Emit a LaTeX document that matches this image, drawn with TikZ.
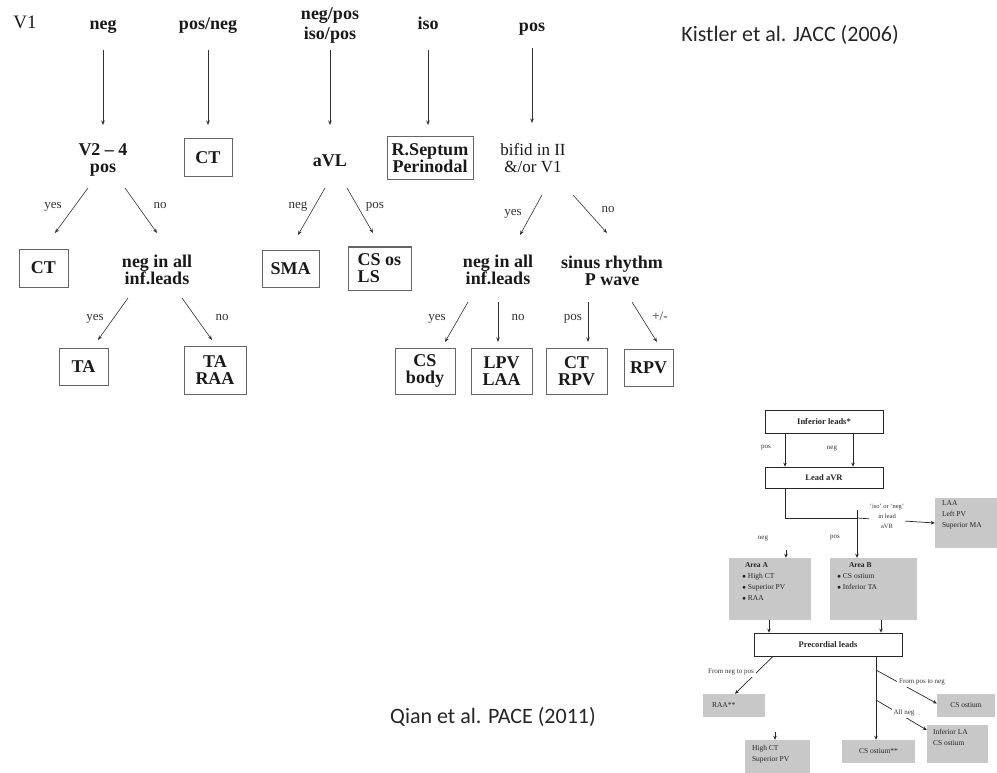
\documentclass[tikz,border=0pt]{standalone}
\usepackage{fontspec}
\setmainfont{Liberation Serif}
\newfontfamily\calib{Carlito}
\usetikzlibrary{arrows.meta}
\begin{document}
\begin{tikzpicture}[x=1pt,y=-1pt,
  bt/.style={font=\bfseries\fontsize{18}{17}\selectfont, align=center, inner sep=0pt, text=black!90},
  one/.style={text height=12.5pt, text depth=4pt},
  rt/.style={font=\fontsize{17}{17}\selectfont, align=center, inner sep=0pt, text=black!90},
  lab/.style={font=\fontsize{13}{13}\selectfont, inner sep=0pt, text=black!80, text height=9pt, text depth=3pt},
  bx/.style={draw=black!60, line width=1pt, font=\bfseries\fontsize{18}{17}\selectfont, align=center, inner sep=0pt, text=black!90},
  arr/.style={draw=black!80, line width=0.6pt, -{Stealth[length=4.5pt,width=3.5pt]}},
  cite/.style={font=\calib\fontsize{22}{22}\selectfont, inner sep=0pt, text=black!85},
  sb/.style={draw=black!85, line width=0.7pt, font=\bfseries\fontsize{8.5}{9}\selectfont, inner sep=0pt, text=black!85},
  gb/.style={fill={rgb,255:red,200;green,200;blue,200}, inner sep=0pt},
  gt/.style={font=\fontsize{7.5}{11}\selectfont, text=black!85, inner sep=0pt, align=left},
  sl/.style={font=\fontsize{7}{7.5}\selectfont, inner sep=2pt, text=black!80, fill=white, align=center},
  sarr/.style={draw=black!85, line width=0.7pt, -{Stealth[length=4pt,width=3.5pt]}},
  sln/.style={draw=black!85, line width=0.7pt}
]
\useasboundingbox[fill=white] (0,0) rectangle (997,773);

% ---------- Kistler tree ----------
\node[rt, one, font=\fontsize{19}{19}\selectfont] (v1) at (25,24) {V1};
\node[bt, one] (n1) at (103,25) {neg};
\node[bt, one] (n2) at (208,25) {pos/neg};
\node[bt, font=\bfseries\fontsize{18}{20}\selectfont] (n3) at (330,25) {neg/pos\\iso/pos};
\node[bt, one] (n4) at (428,25) {iso};
\node[bt, one] (n5) at (532,27) {pos};
\node[cite] (kis) at (790,35) {Kistler et al. JACC (2006)};

\node[bt] (v24) at (103,160) {V2 -- 4\\pos};
\node[bx, minimum width=48, minimum height=38] (ct1) at (208,158) {CT};
\node[bt, one] (avl) at (330,162) {aVL};
\node[bx, minimum width=86, minimum height=43] (rs) at (430,158.5) {R.Septum\\Perinodal};
\node[rt] (bif) at (533,158) {bifid in II\\\&/or V1};

\draw[arr] ([shift={(0,25)}]n1.center) -- ([shift={(0,-35)}]v24.center);
\draw[arr] ([shift={(0,25)}]n2.center) -- ([shift={(0,-33)}]ct1.center);
\draw[arr] ([shift={(0,25)}]n3.center) -- ([shift={(0,-37)}]avl.center);
\draw[arr] ([shift={(0,25)}]n4.center) -- ([shift={(-2,-33.5)}]rs.center);
\draw[arr] ([shift={(0,21)}]n5.center) -- ([shift={(-1,-35)}]bif.center);

\node[bx, minimum width=49, minimum height=38] (ct2) at (43.5,268) {CT};
\node[bt] (nia1) at (157,270) {neg in all\\inf.leads};
\node[bx, minimum width=57, minimum height=37] (sma) at (290.5,268.5) {SMA};
\node[bx, minimum width=63, minimum height=43, align=left] (csos) at (379.5,268.5) {CS os\\LS};
\node[bt] (nia2) at (498,270) {neg in all\\inf.leads};
\node[bt] (sin) at (612,271) {sinus rhythm\\P wave};

\draw[arr] ([shift={(-15,28)}]v24.center) -- ([shift={(11.5,-35)}]ct2.center);
\draw[arr] ([shift={(22,28)}]v24.center) -- ([shift={(0,-37)}]nia1.center);
\draw[arr] ([shift={(-5,26)}]avl.center) -- ([shift={(7.5,-33.5)}]sma.center);
\draw[arr] ([shift={(17,26)}]avl.center) -- ([shift={(-6.5,-35.5)}]csos.center);
\draw[arr] ([shift={(9,37)}]bif.center) -- ([shift={(22,-35)}]nia2.center);
\draw[arr] ([shift={(40,37)}]bif.center) -- ([shift={(-5,-38)}]sin.center);

\node[lab] at (53,205) {yes};
\node[lab] at (160,205) {no};
\node[lab] at (298,205) {neg};
\node[lab] at (375,205) {pos};
\node[lab] at (513,212) {yes};
\node[lab] at (608,210) {no};

\node[bx, minimum width=49, minimum height=37] (ta) at (83.5,366.5) {TA};
\node[bx, minimum width=62, minimum height=48] (tar) at (215,370) {TA\\RAA};
\node[bx, minimum width=60, minimum height=46] (csb) at (425,371) {CS\\body};
\node[bx, minimum width=61, minimum height=46] (lpv) at (501.5,371) {LPV\\LAA};
\node[bx, minimum width=61, minimum height=46] (ctr) at (576.5,371) {CT\\RPV};
\node[bx, minimum width=49, minimum height=37] (rpv) at (648.5,367.5) {RPV};

\draw[arr] ([shift={(-29,28)}]nia1.center) -- ([shift={(14.5,-26.5)}]ta.center);
\draw[arr] ([shift={(25,28)}]nia1.center) -- ([shift={(-3,-30)}]tar.center);
\draw[arr] ([shift={(-30,32)}]nia2.center) -- ([shift={(20,-29)}]csb.center);
\draw[arr] ([shift={(0,32)}]nia2.center) -- ([shift={(-3.5,-29)}]lpv.center);
\draw[arr] ([shift={(-24,31)}]sin.center) -- ([shift={(11.5,-29)}]ctr.center);
\draw[arr] ([shift={(20,31)}]sin.center) -- ([shift={(8.5,-25.5)}]rpv.center);

\node[lab] at (95,317) {yes};
\node[lab] at (222,317) {no};
\node[lab] at (437,317) {yes};
\node[lab] at (518,317) {no};
\node[lab] at (573,317) {pos};
\node[lab] at (660,317) {+/-};

% ---------- Qian flowchart ----------
\node[cite] (qian) at (493,717) {Qian et al. PACE (2011)};

\node[sb, minimum width=118, minimum height=23] (inf) at (824,421.5) {Inferior leads*};
\node[sb, minimum width=118, minimum height=21] (lavr) at (824,477.5) {Lead aVR};
\draw[sarr] ([xshift=-39pt]inf.south) -- ([xshift=-39pt]lavr.north);
\draw[sarr] ([xshift=29pt]inf.south) -- ([xshift=29pt]lavr.north);
\node[sl, fill=none] at (766,448) {pos};
\node[sl, fill=none] at (832,448) {neg};

\node[gb, minimum width=62, minimum height=50] (laa) at (966,523) {};
\node[gt, anchor=north west] at ([shift={(7,3)}]laa.north west) {LAA\\Left PV\\Superior MA};
\coordinate (j) at (857,518);
\coordinate (jt) at (857,510);
\draw[sln] ([xshift=-39pt]lavr.south) |- (j);
\draw[sln] (jt) -- (j);
\draw[sarr] (j) -- (laa.west);
\node[sl, font=\fontsize{6.5}{10}\selectfont, inner sep=1pt] (isol) at (887,516) {`iso' or `neg'\\in lead\\aVR};

\node[gb, minimum width=82, minimum height=62] (areaA) at (770,589) {};
\node[gt, anchor=north west] at ([shift={(13,5)}]areaA.north west) {\hspace*{3pt}\textbf{Area A}\\$\bullet$ High CT\\$\bullet$ Superior PV\\$\bullet$ RAA};
\node[gb, minimum width=87, minimum height=62] (areaB) at (873.5,589) {};
\node[gt, anchor=north west] at ([shift={(7,5)}]areaB.north west) {\hspace*{12pt}\textbf{Area B}\\$\bullet$ CS ostium\\$\bullet$ Inferior TA};
\coordinate (aa) at (786,550);
\draw[sarr] (aa) -- ([xshift=16pt]areaA.north);
\draw[sarr] (j) -- ([xshift=-16.5pt]areaB.north);
\node[sl, fill=none] at (763,538) {neg};
\node[sl, fill=none] at (835,538) {pos};

\node[sb, minimum width=148, minimum height=23] (prec) at (828,644.5) {Precordial leads};
\draw[sarr] ([xshift=-1pt]areaA.south) -- ([xshift=-59pt]prec.north);
\draw[sarr] ([xshift=7.5pt]areaB.south) -- ([xshift=53pt]prec.north);

\node[gb, minimum width=62, minimum height=23] (raa) at (734,705.5) {};
\node[gt, anchor=west] at ([xshift=9pt]raa.west) {RAA**};
\node[gb, minimum width=65, minimum height=34] (hct) at (777.5,757) {};
\node[gt, anchor=north west] at ([shift={(7,5)}]hct.north west) {High CT\\Superior PV};
\node[gb, minimum width=73, minimum height=23] (cso) at (878.5,751.5) {};
\node[gt] at (cso.center) {CS ostium**};
\node[gb, minimum width=58, minimum height=23] (cso2) at (966,705.5) {};
\node[gt] at (cso2.center) {CS ostium};
\node[gb, minimum width=61, minimum height=38] (ila) at (957.5,744) {};
\node[gt, anchor=north west] at ([shift={(6,4)}]ila.north west) {Inferior LA\\CS ostium};

\draw[sarr] ([xshift=-55pt]prec.south) -- ([xshift=1pt]raa.north);
\node[sl] at (731,672) {From neg to pos};
\coordinate (hc) at (775,732);
\draw[sarr] (hc) -- ([xshift=-2.5pt]hct.north);
\draw[sarr] ([xshift=48pt]prec.south) -- ([xshift=-2.5pt]cso.north);
\coordinate (k1) at (876,670);
\coordinate (k2) at (876,700);
\draw[sarr] (k1) -- ([yshift=2pt]cso2.west);
\draw[sarr] (k2) -- ([yshift=14pt]ila.west);
\node[sl] at (922,682) {From pos to neg};
\node[sl] at (904,713) {All neg};
\end{tikzpicture}
\end{document}
